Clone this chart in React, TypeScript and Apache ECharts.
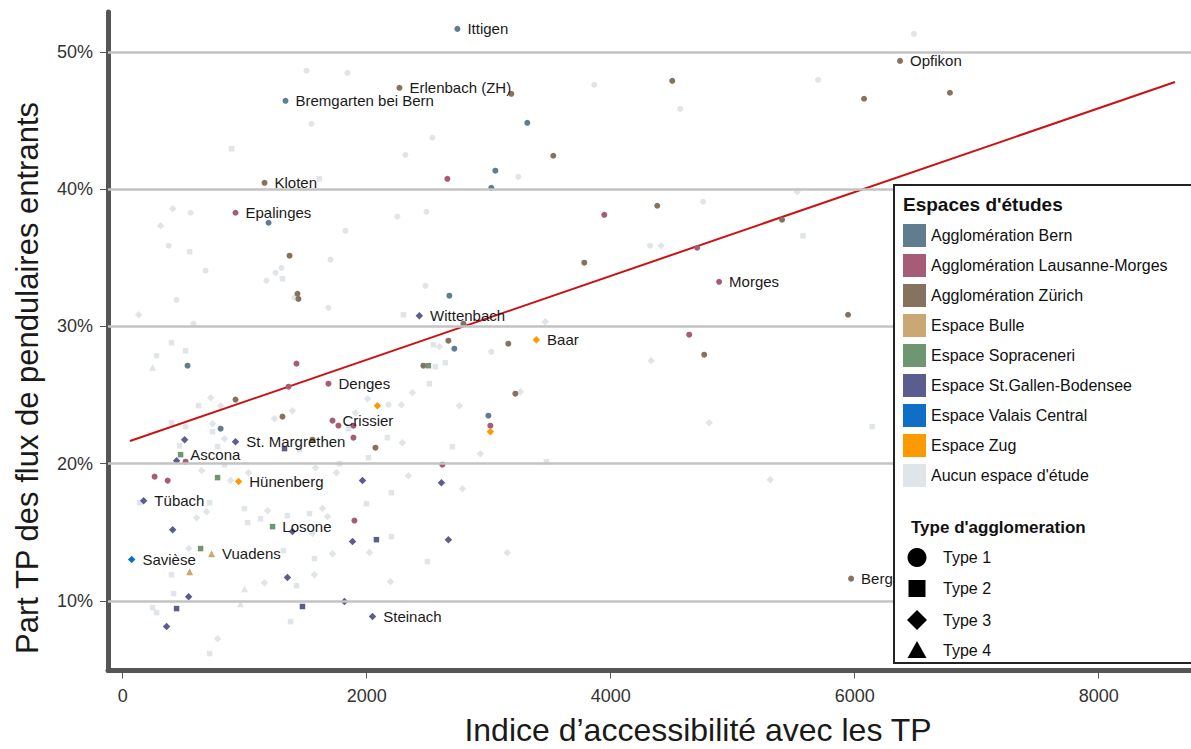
import React, { useEffect, useRef } from 'react';
import * as echarts from 'echarts';

type Pt = [number, number, number, string?];

const FONT = '"Liberation Sans", Arial, sans-serif';

const xTicks = [0, 2000, 4000, 6000, 8000];
const yTicks = [10, 20, 30, 40, 50];

const groupNames = [
  'Agglomération Bern',
  'Agglomération Lausanne-Morges',
  'Agglomération Zürich',
  'Espace Bulle',
  'Espace Sopraceneri',
  'Espace St.Gallen-Bodensee',
  'Espace Valais Central',
  'Espace Zug',
  "Aucun espace d'étude",
];
const groupColors = ['#5f7d8e', '#a65b76', '#85725f', '#c9a874', '#6e9670', '#5c5d8f', '#0f6fc6', '#ff9900', '#dfe5e8'];

const typeNames = ['Type 1', 'Type 2', 'Type 3', 'Type 4'];

// [accessibility index, share TP %, agglomeration type, label]
const bern: Pt[] = [
  [2744, 51.67, 1, 'Ittigen'], [1335, 46.43, 1, 'Bremgarten bei Bern'], [3317, 44.83, 1], [3055, 41.34, 1],
  [3022, 40.1, 1], [1196, 37.55, 1], [2678, 32.24, 1], [2719, 28.38, 1], [532, 27.14, 1], [803, 22.55, 1], [2998, 23.5, 1],
];
const lausanne: Pt[] = [
  [925, 38.28, 1, 'Epalinges'], [4889, 33.25, 1, 'Morges'], [1687, 25.83, 1, 'Denges'], [1720, 23.14, 1, 'Crissier'],
  [1769, 22.78, 1], [1892, 22.77, 1], [2662, 40.75, 1], [3948, 38.13, 1], [4709, 35.73, 1], [4644, 29.4, 1],
  [1425, 27.29, 1], [1360, 25.61, 1], [1892, 21.9, 1], [3014, 22.77, 1], [2621, 19.93, 1], [1900, 15.86, 1],
  [516, 20.15, 1], [262, 19.06, 1], [369, 18.77, 1],
];
const zurich: Pt[] = [
  [2269, 47.38, 1, 'Erlenbach (ZH)'], [3186, 46.94, 1], [1163, 40.46, 1, 'Kloten'], [4505, 47.89, 1], [3530, 42.43, 1],
  [6077, 46.58, 1], [6372, 49.34, 1, 'Opfikon'], [6781, 47.02, 1], [4382, 38.79, 1], [5405, 37.77, 1], [3784, 34.64, 1],
  [5946, 30.85, 1], [3161, 28.74, 1], [4767, 27.94, 1], [3219, 25.1, 1], [1368, 35.15, 1], [1433, 32.38, 1],
  [1441, 32.0, 1], [2793, 30.2, 1], [2670, 28.96, 1], [2465, 27.14, 1], [925, 24.67, 1], [1310, 23.43, 1],
  [2072, 21.17, 1], [1556, 21.75, 1], [5971, 11.63, 1, 'Berg'],
];
const bulle: Pt[] = [[729, 13.45, 4, 'Vuadens'], [549, 12.14, 4]];
const sopraceneri: Pt[] = [
  [475, 20.66, 2, 'Ascona'], [778, 18.99, 2], [1229, 15.42, 2, 'Losone'], [639, 13.82, 2], [2506, 27.14, 2],
];
const stgallen: Pt[] = [
  [2432, 30.78, 3, 'Wittenbach'], [925, 21.6, 3, 'St. Margrethen'], [508, 21.75, 3], [442, 20.22, 3], [1327, 21.1, 2],
  [172, 17.31, 3, 'Tübach'], [410, 15.2, 3], [1966, 18.77, 3], [2613, 18.62, 3], [1884, 14.33, 3], [2080, 14.47, 2],
  [2670, 14.47, 3], [1351, 11.71, 3], [541, 10.32, 3], [442, 9.45, 2], [1474, 9.6, 2], [1818, 9.96, 3],
  [2048, 8.87, 3, 'Steinach'], [360, 8.14, 3], [1392, 15.06, 3],
];
const valais: Pt[] = [[74, 13.02, 3, 'Savièse']];
const zug: Pt[] = [[3391, 29.03, 3, 'Baar'], [2088, 24.23, 3], [3014, 22.33, 3], [950, 18.7, 3, 'Hünenberg']];
const aucun: Pt[] = [
  [1507, 48.62, 1], [1843, 48.47, 1], [1548, 44.76, 1], [893, 42.94, 2], [2539, 43.74, 1], [2318, 42.5, 1],
  [1613, 40.75, 2], [410, 38.57, 3], [557, 38.28, 1], [311, 37.33, 3], [2252, 37.99, 1], [2490, 38.35, 1],
  [1826, 36.97, 1], [377, 35.88, 1], [6486, 51.31, 1], [3866, 47.6, 1], [4570, 45.85, 1], [5700, 47.96, 1],
  [3243, 40.9, 1], [4758, 39.08, 1], [5528, 39.81, 3], [5577, 36.6, 2], [4324, 35.88, 1], [4414, 35.88, 3],
  [3464, 30.34, 3], [3022, 28.15, 1], [4333, 27.5, 3], [3260, 25.25, 3], [4808, 22.99, 3], [6143, 22.7, 2],
  [5307, 18.84, 3], [549, 35.44, 2], [680, 34.06, 1], [1302, 34.27, 1], [1253, 33.91, 1], [1179, 33.33, 1],
  [1310, 33.47, 2], [1704, 34.86, 1], [1409, 32.09, 1], [1687, 31.36, 1], [442, 31.94, 1], [131, 30.85, 3],
  [581, 30.2, 1], [401, 28.81, 2], [516, 28.23, 2], [278, 27.87, 1], [246, 27.0, 4], [2482, 32.96, 1],
  [2301, 30.85, 2], [2547, 28.67, 2], [2596, 28.52, 3], [2563, 27.07, 2], [2645, 27.36, 2], [2514, 25.83, 2],
  [2375, 25.17, 3], [2007, 24.74, 3], [2179, 24.3, 1], [2285, 24.3, 3], [2760, 24.23, 3], [721, 24.81, 3],
  [622, 24.23, 2], [803, 24.23, 3], [1392, 23.86, 3], [1245, 23.28, 3], [1908, 23.72, 3], [401, 22.99, 2],
  [516, 22.7, 1], [737, 22.92, 3], [737, 22.33, 2], [467, 21.31, 2], [778, 21.24, 2], [835, 21.82, 3],
  [647, 19.5, 3], [835, 19.93, 2], [1032, 19.35, 3], [885, 18.77, 3], [1450, 21.02, 2], [1581, 19.71, 3],
  [1753, 19.35, 3], [1777, 20.0, 2], [2015, 20.44, 2], [2170, 21.9, 2], [2293, 21.53, 3], [2703, 21.24, 2],
  [2932, 20.73, 3], [2342, 19.13, 3], [2785, 18.18, 3], [2203, 17.89, 2], [1998, 17.09, 2], [713, 17.16, 2],
  [139, 17.16, 2], [999, 16.73, 2], [1188, 16.58, 3], [1351, 16.22, 2], [1532, 16.36, 2], [1638, 16.73, 3],
  [1679, 16.15, 3], [688, 16.51, 3], [606, 16.07, 3], [1130, 16.0, 2], [1024, 15.71, 2], [1556, 14.91, 3],
  [2203, 14.69, 2], [2498, 12.87, 2], [2023, 13.53, 3], [1720, 13.45, 3], [1572, 13.09, 2], [1318, 13.67, 2],
  [1572, 11.92, 3], [1163, 11.34, 3], [1425, 11.12, 2], [999, 10.9, 4], [966, 9.81, 4], [2195, 11.41, 3],
  [541, 13.82, 3], [401, 11.92, 2], [418, 10.54, 2], [246, 9.52, 2], [278, 9.16, 2], [1376, 8.5, 2],
  [778, 7.26, 3], [713, 6.17, 2], [1851, 22.55, 2], [3473, 20.15, 2], [3153, 13.52, 3],
];

const trendLine: [number, number][] = [[60, 21.65], [8626, 47.8]];

const groupData: Pt[][] = [bern, lausanne, zurich, bulle, sopraceneri, stgallen, valais, zug, aucun];

const typeSymbol: Record<number, string> = { 1: 'circle', 2: 'rect', 3: 'diamond', 4: 'triangle' };
const typeSize: Record<number, number> = { 1: 6, 2: 5.5, 3: 7.5, 4: 7 };

function buildSeries() {
  const order = [8, 0, 1, 2, 3, 4, 5, 6, 7];
  const scatter = order.map((gi) => ({
    type: 'scatter',
    name: groupNames[gi],
    z: gi === 8 ? 2 : 4,
    itemStyle: { color: groupColors[gi], opacity: 1 },
    label: {
      show: false,
      position: 'right',
      distance: 7,
      fontSize: 15,
      fontFamily: FONT,
      color: '#1a1a1a',
      formatter: '{b}',
    },
    emphasis: { disabled: true },
    data: groupData[gi].map((p) => ({
      value: [p[0], p[1]],
      name: p[3] || '',
      symbol: typeSymbol[p[2]],
      symbolSize: typeSize[p[2]],
      label: { show: !!p[3] },
    })),
  }));
  return [
    {
      type: 'line',
      name: 'grid',
      z: 1,
      data: [],
      silent: true,
      markLine: {
        silent: true,
        symbol: ['none', 'none'],
        label: { show: false },
        lineStyle: { type: 'solid', color: '#c3c3c3', width: 2.5 },
        data: yTicks.map((v) => ({ yAxis: v })),
      },
    },
    ...scatter,
    {
      type: 'line',
      name: 'trend',
      z: 3,
      data: trendLine,
      symbol: 'none',
      silent: true,
      lineStyle: { color: '#cc1111', width: 2 },
    },
  ];
}

function buildLegend() {
  const els: any[] = [];
  const Z = 100;
  els.push({ type: 'rect', z: Z, shape: { x: 894, y: 185, width: 330, height: 478 }, style: { fill: '#ffffff', stroke: '#222222', lineWidth: 2 } });
  els.push({ type: 'text', z: Z + 1, x: 903, y: 204, style: { text: "Espaces d'études", fontSize: 19, fontWeight: 'bold', fontFamily: FONT, fill: '#111', verticalAlign: 'middle' } });
  groupNames.forEach((n, i) => {
    const cy = 235.5 + i * 30;
    els.push({ type: 'rect', z: Z + 1, shape: { x: 903, y: cy - 11.5, width: 23, height: 23 }, style: { fill: groupColors[i] } });
    els.push({ type: 'text', z: Z + 1, x: 931, y: cy, style: { text: n, fontSize: 16, fontFamily: FONT, fill: '#111', verticalAlign: 'middle' } });
  });
  els.push({ type: 'text', z: Z + 1, x: 911, y: 527, style: { text: "Type d'agglomeration", fontSize: 17, fontWeight: 'bold', fontFamily: FONT, fill: '#111', verticalAlign: 'middle' } });
  const cx = 917;
  const ys = [557.5, 588.5, 620, 650];
  els.push({ type: 'circle', z: Z + 1, shape: { cx, cy: ys[0], r: 9.5 }, style: { fill: '#000' } });
  els.push({ type: 'rect', z: Z + 1, shape: { x: cx - 8.5, y: ys[1] - 8.5, width: 17, height: 17 }, style: { fill: '#000' } });
  els.push({ type: 'polygon', z: Z + 1, shape: { points: [[cx, ys[2] - 10], [cx + 10, ys[2]], [cx, ys[2] + 10], [cx - 10, ys[2]]] }, style: { fill: '#000' } });
  els.push({ type: 'polygon', z: Z + 1, shape: { points: [[cx, ys[3] - 9], [cx + 9.5, ys[3] + 8], [cx - 9.5, ys[3] + 8]] }, style: { fill: '#000' } });
  typeNames.forEach((t, i) => {
    els.push({ type: 'text', z: Z + 1, x: 943, y: ys[i], style: { text: t, fontSize: 16, fontFamily: FONT, fill: '#111', verticalAlign: 'middle' } });
  });
  return els;
}

export default function App() {
  const ref = useRef<HTMLDivElement>(null);
  useEffect(() => {
    if (!ref.current) return;
    const chart = echarts.init(ref.current, undefined, { renderer: 'svg' });
    chart.setOption({
      animation: false,
      backgroundColor: '#ffffff',
      grid: { left: 108, top: 12, right: 0, bottom: 78.5, containLabel: false },
      xAxis: {
        type: 'value',
        min: -120,
        max: 8757,
        axisLine: { show: true, onZero: false, lineStyle: { color: '#555555', width: 5 } },
        axisTick: { show: true, customValues: xTicks, length: 8, lineStyle: { color: '#555555', width: 1 } },
        axisLabel: {
          show: true, customValues: xTicks, margin: 16, fontSize: 18, fontFamily: FONT, color: '#333333',
          formatter: (v: number) => String(Math.round(v)),
        },
        splitLine: { show: false },
      },
      yAxis: {
        type: 'value',
        min: 4.94,
        max: 52.9,
        axisLine: { show: true, onZero: false, lineStyle: { color: '#555555', width: 5 } },
        axisTick: { show: true, customValues: yTicks, length: 8, lineStyle: { color: '#555555', width: 1 } },
        axisLabel: {
          show: true, customValues: yTicks, margin: 15, fontSize: 18, fontFamily: FONT, color: '#333333',
          formatter: (v: number) => Math.round(v) + '%',
        },
        splitLine: { show: false },
      },
      series: buildSeries(),
      graphic: {
        elements: [
          { type: 'text', x: 698, y: 730, style: { text: "Indice d’accessibilité avec les TP", fontSize: 32, fontFamily: FONT, fill: '#1a1a1a', align: 'center', verticalAlign: 'middle' } },
          { type: 'text', x: 27, y: 378, rotation: Math.PI / 2, style: { text: 'Part TP des flux de pendulaires entrants', fontSize: 31, fontFamily: FONT, fill: '#1a1a1a', align: 'center', verticalAlign: 'middle' } },
          ...buildLegend(),
        ],
      },
    });
    return () => chart.dispose();
  }, []);
  return <div ref={ref} style={{ position: 'fixed', left: 0, top: 0, width: 1191, height: 749 }} />;
}
